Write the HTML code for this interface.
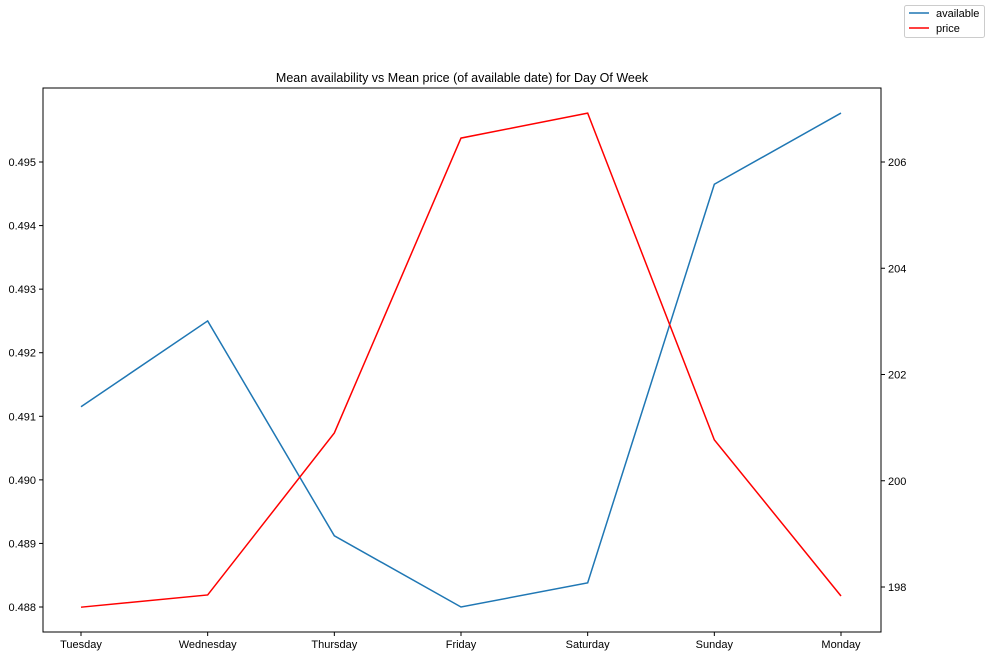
<!DOCTYPE html>
<html><head><meta charset="utf-8"><style>
body{margin:0;background:#fff;font-family:"Liberation Sans","DejaVu Sans",sans-serif}
svg text{font-family:"Liberation Sans","DejaVu Sans",sans-serif;font-size:11px;fill:#000}
</style></head><body>
<svg id="c" width="989" height="656"></svg>
<script>
const categories=["Tuesday","Wednesday","Thursday","Friday","Saturday","Sunday","Monday"];
const availableValues=[0.49115,0.4925,0.48912,0.4880,0.48838,0.49465,0.49577];
const priceValues=[197.62,197.85,200.90,206.45,206.92,200.77,197.83];
const leftTicks=[0.488,0.489,0.490,0.491,0.492,0.493,0.494,0.495];
const rightTicks=[198,200,202,204,206];
const L=43,R=881,T=88,B=632;
const yL=v=>607-(v-0.488)/0.001*63.57;
const yR=v=>587-(v-198)*53.125;
const x=i=>81+i*(841-81)/(categories.length-1);
const s=document.getElementById('c');const NS='http://www.w3.org/2000/svg';
function mk(t,a,p){const e=document.createElementNS(NS,t);for(const k in a)e.setAttribute(k,a[k]);(p||s).appendChild(e);return e;}
let e;
e=mk('rect',{x:L,y:T,width:R-L,height:B-T,fill:'none',stroke:'#000','stroke-width':1});


e=mk('text',{x:(L+R)/2,y:82,'text-anchor':'middle','font-size':'12.5'});e.textContent='Mean availability vs Mean price (of available date) for Day Of Week';e.style.fontSize='12.5px';


categories.forEach((c,i)=>{
 mk('line',{x1:x(i),x2:x(i),y1:B,y2:B+4,stroke:'#000'});
 e=mk('text',{x:x(i),y:B+16,'text-anchor':'middle'});e.textContent=c;
 
 
});
leftTicks.forEach(v=>{
 mk('line',{x1:L-4,x2:L,y1:yL(v),y2:yL(v),stroke:'#000'});
 e=mk('text',{x:L-7,y:yL(v)+4,'text-anchor':'end'});e.textContent=v.toFixed(3);
 
 
});
rightTicks.forEach(v=>{
 mk('line',{x1:R,x2:R+4,y1:yR(v),y2:yR(v),stroke:'#000'});
 e=mk('text',{x:R+7,y:yR(v)+4}); e.textContent=v;
 
 
});
e=mk('polyline',{points:availableValues.map((v,i)=>x(i)+','+yL(v)).join(' '),fill:'none',stroke:'#1f77b4','stroke-width':1.5});


e=mk('polyline',{points:priceValues.map((v,i)=>x(i)+','+yR(v)).join(' '),fill:'none',stroke:'#ff0000','stroke-width':1.5});


const g=mk('g',{});


mk('rect',{x:904.5,y:5.5,width:80,height:32,rx:2,fill:'#fff',stroke:'#ccc'},g);
mk('line',{x1:909,x2:929,y1:13,y2:13,stroke:'#1f77b4','stroke-width':1.5},g);
e=mk('text',{x:936,y:17},g);e.textContent='available';


mk('line',{x1:909,x2:929,y1:28,y2:28,stroke:'#ff0000','stroke-width':1.5},g);
e=mk('text',{x:936,y:32},g);e.textContent='price';


</script>
</body></html>
